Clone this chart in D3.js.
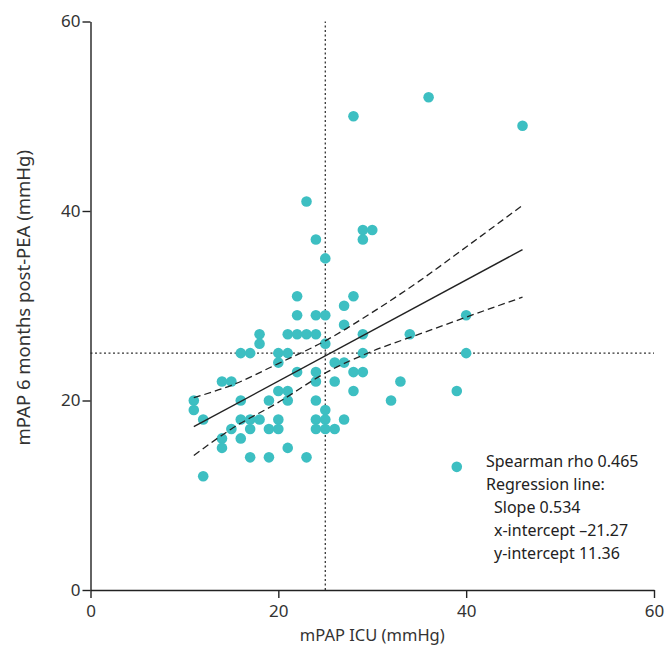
<!DOCTYPE html>
<html>
<head>
<meta charset="utf-8">
<script src="https://cdn.jsdelivr.net/npm/d3@7"></script>
<style>
  body { margin: 0; background: #fff; }
  text { font-family: "Noto Sans", sans-serif; }
</style>
</head>
<body>
<script>
var W = 665, H = 649;
var margin = {top: 21.5, right: 11, bottom: 59, left: 90.5};

// mPAP ICU (x) and mPAP 6 months post-PEA (y)
var icu = [36, 28, 46, 23, 29, 30, 24, 29, 25,
  22, 28, 27, 22, 24, 25, 40, 27,
  18, 21, 22, 23, 24, 29, 34,
  18, 25,
  16, 17, 20, 21, 29, 40,
  20, 26, 27,
  22, 24, 28, 29,
  14, 15, 24, 26, 33,
  20, 21, 28, 39,
  11, 16, 19, 21, 24, 32,
  11, 25,
  12, 16, 17, 18, 20, 24, 25, 27,
  15, 17, 19, 20, 24, 25, 26,
  14, 16,
  14, 21,
  17, 19, 23,
  39, 12];
var post = [52, 50, 49, 41, 38, 38, 37, 37, 35,
  31, 31, 30, 29, 29, 29, 29, 28,
  27, 27, 27, 27, 27, 27, 27,
  26, 26,
  25, 25, 25, 25, 25, 25,
  24, 24, 24,
  23, 23, 23, 23,
  22, 22, 22, 22, 22,
  21, 21, 21, 21,
  20, 20, 20, 20, 20, 20,
  19, 19,
  18, 18, 18, 18, 18, 18, 18, 18,
  17, 17, 17, 17, 17, 17, 17,
  16, 16,
  15, 15,
  14, 14, 14,
  13, 12];

// regression and its confidence band (band)
var slope = 0.534, intercept = 11.36;
var bandX = [11, 15, 20, 25, 30, 35, 40, 46];
var bandUpper = [20.3, 21.6, 23.9, 26.3, 29.3, 32.6, 36.2, 40.6];
var bandLower = [14.2, 17.0, 19.8, 22.9, 25.2, 27.0, 28.8, 30.9];

var cutoff = 25;
var ticks = [0, 20, 40, 60];
var statsText = ["Spearman rho 0.465", "Regression line:", " Slope 0.534", " x-intercept \u201321.27", " y-intercept 11.36"];

var svg = d3.select("body").append("svg")
  .attr("width", W)
  .attr("height", H);

var x = d3.scaleLinear().domain([0, 60]).range([margin.left, W - margin.right]);
var y = d3.scaleLinear().domain([0, 60]).range([H - margin.bottom, margin.top]);

// reference lines at 25 mmHg
svg.append("line")
  .attr("x1", x(0)).attr("x2", x(60))
  .attr("y1", y(cutoff)).attr("y2", y(cutoff))
  .attr("stroke", "#333").attr("stroke-width", 1.3)
  .attr("stroke-dasharray", "2,2.5");
svg.append("line")
  .attr("x1", x(cutoff)).attr("x2", x(cutoff))
  .attr("y1", y(0)).attr("y2", y(60))
  .attr("stroke", "#333").attr("stroke-width", 1.3)
  .attr("stroke-dasharray", "2,2.5");

// points
svg.append("g").selectAll("circle")
  .data(icu.map(function(d, i) { return [d, post[i]]; }))
  .join("circle")
  .attr("cx", function(d) { return x(d[0]); })
  .attr("cy", function(d) { return y(d[1]); })
  .attr("r", 5.3)
  .attr("fill", "#3dbfc2");

// confidence band
var bandLine = d3.line().curve(d3.curveMonotoneX);
[bandUpper, bandLower].forEach(function(b) {
  svg.append("path")
    .attr("d", bandLine(bandX.map(function(v, i) { return [x(v), y(b[i])]; })))
    .attr("fill", "none")
    .attr("stroke", "#222")
    .attr("stroke-width", 1.3)
    .attr("stroke-dasharray", "7,4");
});

// regression line
var ext = d3.extent(icu);
svg.append("line")
  .attr("x1", x(ext[0])).attr("y1", y(intercept + slope * ext[0]))
  .attr("x2", x(ext[1])).attr("y2", y(intercept + slope * ext[1]))
  .attr("stroke", "#222")
  .attr("stroke-width", 1.4);

// axes
var xAxis = svg.append("g")
  .attr("transform", "translate(0," + y(0) + ")")
  .call(d3.axisBottom(x).tickValues(ticks).tickSize(8).tickSizeOuter(0));
var yAxis = svg.append("g")
  .attr("transform", "translate(" + x(0) + ",0)")
  .call(d3.axisLeft(y).tickValues(ticks).tickSize(8).tickSizeOuter(0));

[xAxis, yAxis].forEach(function(a) {
  a.select(".domain").attr("stroke", "#222").attr("stroke-width", 1.4);
  a.selectAll(".tick line").attr("stroke", "#222").attr("stroke-width", 1.4);
  a.selectAll(".tick text")
    .attr("fill", "#333")
    .style("font-family", "Noto Sans, sans-serif")
    .style("font-size", "17px");
});
xAxis.selectAll(".tick text").attr("dy", "0.95em");
yAxis.selectAll(".tick text").attr("x", -10);

// axis titles
svg.append("text")
  .attr("x", (x(0) + x(60)) / 2)
  .attr("y", 641)
  .attr("text-anchor", "middle")
  .attr("fill", "#333")
  .style("font-size", "16.5px")
  .text("mPAP ICU (mmHg)");
svg.append("text")
  .attr("transform", "translate(30," + ((y(0) + y(60)) / 2 - 8) + ") rotate(-90)")
  .attr("text-anchor", "middle")
  .attr("fill", "#333")
  .style("font-size", "18.5px")
  .text("mPAP 6 months post-PEA (mmHg)");

// stats annotation
var note = svg.append("text")
  .attr("x", 486)
  .attr("y", 467)
  .attr("fill", "#222")
  .style("font-size", "16px");
note.selectAll("tspan")
  .data(statsText)
  .join("tspan")
  .attr("x", function(d) { return d.charAt(0) === " " ? 494 : 486; })
  .attr("dy", function(d, i) { return i === 0 ? 0 : 23; })
  .text(function(d) { return d.trim(); });
</script>
</body>
</html>
